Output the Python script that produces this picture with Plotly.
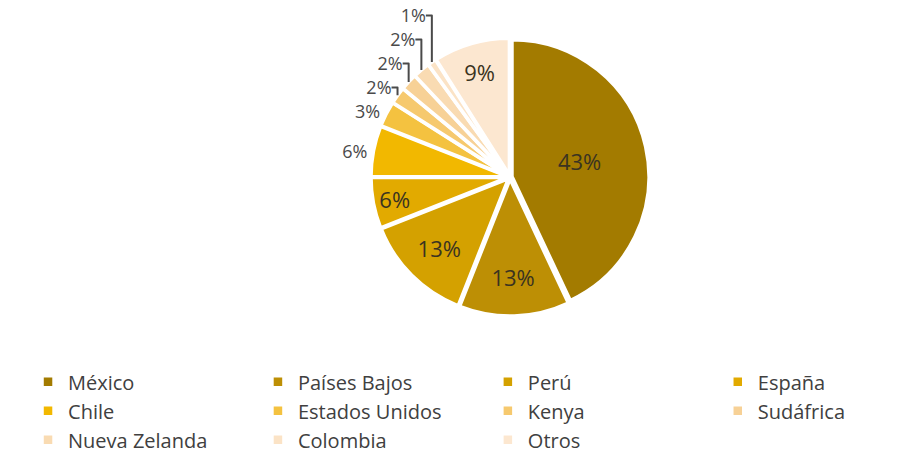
import plotly.graph_objects as go

paises = ["México", "Países Bajos", "Perú", "España", "Chile", "Estados Unidos",
          "Kenya", "Sudáfrica", "Nueva Zelanda", "Colombia", "Otros"]
porcentajes = [43, 13, 13, 6, 6, 3, 2, 2, 2, 1, 9]
colores = ["#A37B00", "#BD8F05", "#D4A100", "#E2AA00", "#F2B800", "#F4C240",
           "#F6C96E", "#F7D196", "#F9DBB2", "#FBE3C6", "#FCE7D0"]
posicion_texto = ["inside", "inside", "inside", "inside", "outside", "outside",
                  "outside", "outside", "outside", "outside", "inside"]

fig = go.Figure(go.Pie(
    labels=paises,
    values=porcentajes,
    sort=False,
    direction="clockwise",
    rotation=0,
    marker=dict(colors=colores, line=dict(color="white", width=3.5)),
    pull=0.015,
    texttemplate="%{percent:.0%}",
    textposition=posicion_texto,
    insidetextorientation="horizontal",
    insidetextfont=dict(family="Open Sans", size=22, color="#3a3320"),
    outsidetextfont=dict(family="Open Sans", size=18, color="#4a4a4a"),
    domain=dict(x=[0.405, 0.7085], y=[0.326, 0.919]),
    hoverinfo="label+percent",
))

fig.update_layout(
    width=916, height=469,
    margin=dict(l=0, r=0, t=0, b=0, autoexpand=False),
    paper_bgcolor="white",
    plot_bgcolor="white",
    showlegend=True,
    legend=dict(
        orientation="h",
        x=0.0306, xanchor="left",
        y=0.124, yanchor="middle",
        entrywidthmode="fraction",
        entrywidth=0.251,
        font=dict(family="Open Sans", size=20, color="#404040"),
        traceorder="normal",
    ),
)

fig.write_html("out.html", config={"displayModeBar": False},
               post_script="document.body.style.margin='0px';")
